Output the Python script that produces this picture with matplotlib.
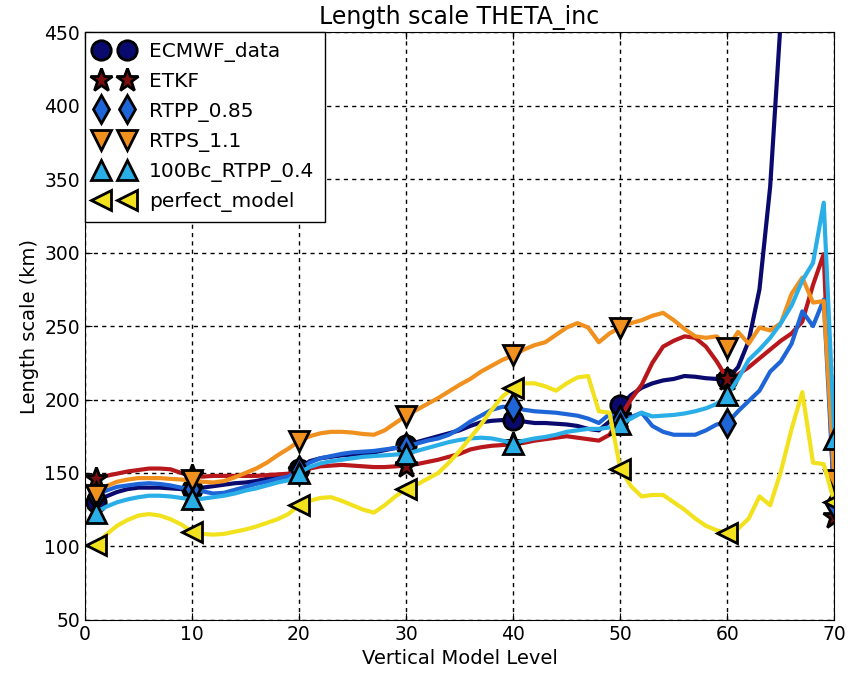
import numpy as np
import matplotlib
matplotlib.use('Agg')
import matplotlib.pyplot as plt
from matplotlib.lines import Line2D

# niveles verticales del modelo
levels = np.arange(1, 71)

ecmwf_data = [130, 134, 137, 139, 140, 140, 140, 139.5, 139, 139,
              140, 141, 142, 143, 143.5, 144.5, 146, 147, 148.5, 153,
              158, 160, 161, 162, 162.5, 163, 164, 165.5, 167, 169,
              171, 173, 175, 177, 179, 182, 184.5, 185.5, 186, 186,
              185, 184, 184, 183.5, 183, 182, 180, 179, 185, 196,
              203, 208, 211, 213, 214, 216, 215.5, 214.5, 214, 214,
              222, 240, 275, 345, 460, 560, 650, 730, 800, np.nan]

etkf = [146, 148, 149.5, 151, 152, 153, 153, 152.5, 150, 148,
        147.5, 148, 148, 148, 148, 148, 148.5, 149, 149.5, 151,
        153, 154.5, 155, 155.5, 155, 154.5, 154, 154, 154.5, 155,
        156, 157.5, 159, 161, 163, 166, 167.5, 168.5, 169, 169.5,
        170.5, 172, 173, 174, 175, 174, 173, 172, 176, 188,
        200, 210, 225, 236, 240, 243, 242, 236, 226, 214,
        217, 222, 228, 234, 240, 245, 253, 278, 299, 120]

rtpp_085 = [134.5, 138, 140.5, 141.5, 142.5, 143, 142.5, 141.5, 140, 139,
            137.5, 136, 136.5, 138.5, 140.5, 142.5, 144, 146, 147.5, 152,
            157, 160, 161.5, 163, 164, 164.5, 165, 166, 167, 168,
            170, 172, 173.5, 176, 180, 185, 189, 193, 195, 195,
            193, 192, 191.5, 191, 190, 189, 187, 184, 190, 186,
            188, 191, 182, 178, 176, 176, 176, 179, 183, 184,
            192, 199, 206, 219, 226, 238, 260, 250, 268, 129]

rtps_11 = [135, 141, 144, 145.5, 146.5, 146.5, 146.5, 146, 145.5, 145,
           144, 143.5, 144.5, 147, 150, 153, 157, 162, 166.5, 171.5,
           175, 177, 178, 178, 177.5, 176.5, 176, 179, 184, 189,
           193, 197, 201, 205.5, 210, 214, 219, 223, 227, 230,
           234, 237, 239, 244, 249, 252, 249, 239, 245, 249,
           252, 254, 257, 259, 254, 248, 243, 242, 243, 235,
           246, 238, 249, 247, 252, 272, 283, 266, 267, 145]

bc100_rtpp_04 = [123, 127, 130, 132, 133.5, 134.5, 134.5, 134, 133, 132,
                 132.5, 133.5, 134.5, 136, 138, 139.5, 141.5, 143.5, 145, 150,
                 154, 156.5, 158, 159, 160, 161, 161.5, 162, 162.5, 163,
                 165, 167, 169, 171, 172.5, 173.5, 174, 173.5, 172, 170,
                 172, 173.5, 174.5, 176, 178, 179, 180, 180, 181, 183,
                 187, 191, 188.5, 189, 189.5, 190.5, 192, 194, 197, 203,
                 214, 227, 234, 242, 252, 264, 281, 293, 334, 173]

perfect_model = [101, 108, 114, 118, 121, 122, 121, 118.5, 115, 110,
                 108.5, 108, 108.5, 110, 111.5, 113.5, 116, 118.5, 122, 128,
                 131, 133, 133.5, 131, 128, 125, 123, 128, 134, 139,
                 142, 146, 150, 157, 165, 174, 183, 193, 202, 208,
                 211, 211, 209, 206, 211, 215, 216, 192, 191, 153,
                 141, 134, 135, 135, 130, 125, 119, 114, 111, 109,
                 112, 119, 134, 128, 151, 180, 205, 157, 156, 130]

series = [
    ('ECMWF_data', ecmwf_data, '#0a0a6e', 'o', '#0a0a6e'),
    ('ETKF', etkf, '#b8171c', '*', '#7a0f0f'),
    ('RTPP_0.85', rtpp_085, '#1e66d8', 'd', '#1e66d8'),
    ('RTPS_1.1', rtps_11, '#f0901e', 'v', '#f0901e'),
    ('100Bc_RTPP_0.4', bc100_rtpp_04, '#2aaee8', '^', '#2aaee8'),
    ('perfect_model', perfect_model, '#f2e21e', '<', '#f2e21e'),
]

fig = plt.figure(figsize=(8.48, 6.73), dpi=100)
ax = fig.add_axes([0.1, 0.079, 0.884, 0.873])

marcas = [0, 9, 19, 29, 39, 49, 59, 69]
handles = []
for nombre, valores, color, marker, cara in series:
    ms = 17 if marker == '*' else 14
    ax.plot(levels, valores, color=color, lw=3, marker=marker, ms=ms,
            markevery=marcas, markerfacecolor=cara, markeredgecolor='black',
            markeredgewidth=2)
    handles.append(Line2D([], [], linestyle='none', marker=marker, ms=ms,
                          markerfacecolor=cara, markeredgecolor='black',
                          markeredgewidth=2, label=nombre))

ax.set_xlim(0, 70)
ax.set_ylim(50, 450)
ax.set_xticks(np.arange(0, 71, 10))
ax.set_yticks(np.arange(50, 451, 50))
ax.grid(True, color='black', linestyle=(0, (3, 3)), linewidth=1)
ax.tick_params(labelsize=13.5, direction='in', length=5, top=True, right=True)
ax.set_xlabel('Vertical Model Level', fontsize=14)
ax.set_ylabel('Length scale (km)', fontsize=14)
ax.set_title('Length scale THETA_inc', fontsize=17)

leg = ax.legend(handles=handles, loc='upper left', numpoints=2, fontsize=14.5,
                borderaxespad=0, fancybox=False, framealpha=1,
                handlelength=1.9, handletextpad=0.8, labelspacing=0.5,
                borderpad=0.5)
leg.get_frame().set_edgecolor('black')

fig.savefig('out.png', dpi=100)
